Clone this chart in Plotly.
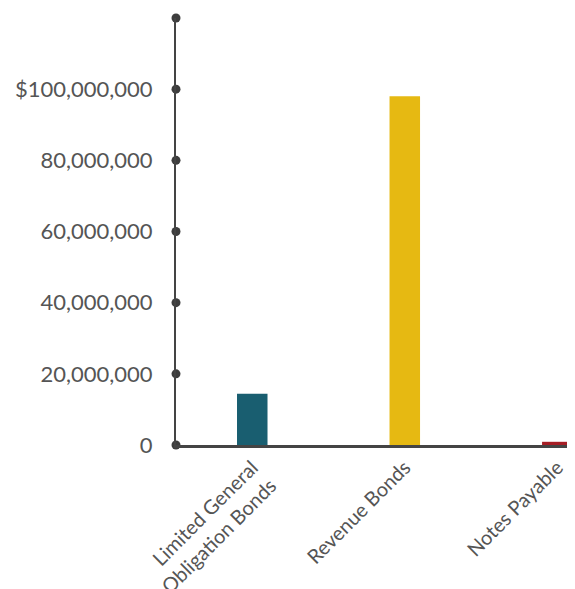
import plotly.graph_objects as go

categories = ["Limited General<br>Obligation Bonds", "Revenue Bonds", "Notes Payable"]
values = [14400000, 98000000, 900000]
colors = ["#195e70", "#e6b912", "#a51d24"]
ytick_vals = [0, 20000000, 40000000, 60000000, 80000000, 100000000]
ytick_text = ["0", "20,000,000", "40,000,000", "60,000,000", "80,000,000", "$100,000,000"]
dot_vals = [0, 20000000, 40000000, 60000000, 80000000, 100000000, 120000000]

fig = go.Figure()
fig.add_trace(go.Bar(
    x=[0, 1, 2], y=values, width=0.2,
    marker=dict(color=colors, line=dict(width=0)),
    hoverinfo="skip", showlegend=False,
))
fig.add_trace(go.Scatter(
    x=[-0.5] * len(dot_vals), y=dot_vals, mode="markers",
    marker=dict(color="#3d3d3d", size=9),
    cliponaxis=False, hoverinfo="skip", showlegend=False,
))

fig.update_layout(
    width=567, height=581,
    margin=dict(l=168, r=0, t=10, b=144, autoexpand=False),
    paper_bgcolor="white", plot_bgcolor="white",
    font=dict(family="Lato, sans-serif", color="#555555", size=22),
    xaxis=dict(
        type="linear", range=[-0.5, 2.116], automargin=False,
        tickvals=[0, 1, 2], ticktext=categories, tickangle=-45,
        showline=True, linecolor="#444444", linewidth=3,
        showgrid=False, zeroline=False, ticks="",
        tickfont=dict(size=20, color="#555555"),
    ),
    yaxis=dict(
        range=[0, 120000000], automargin=False,
        tickvals=ytick_vals, ticktext=ytick_text,
        showline=True, linecolor="#444444", linewidth=2,
        showgrid=False, zeroline=False, ticks="",
        ticklabelstandoff=17,
        tickfont=dict(size=22, color="#555555"),
    ),
)

fig.write_html("out.html")
